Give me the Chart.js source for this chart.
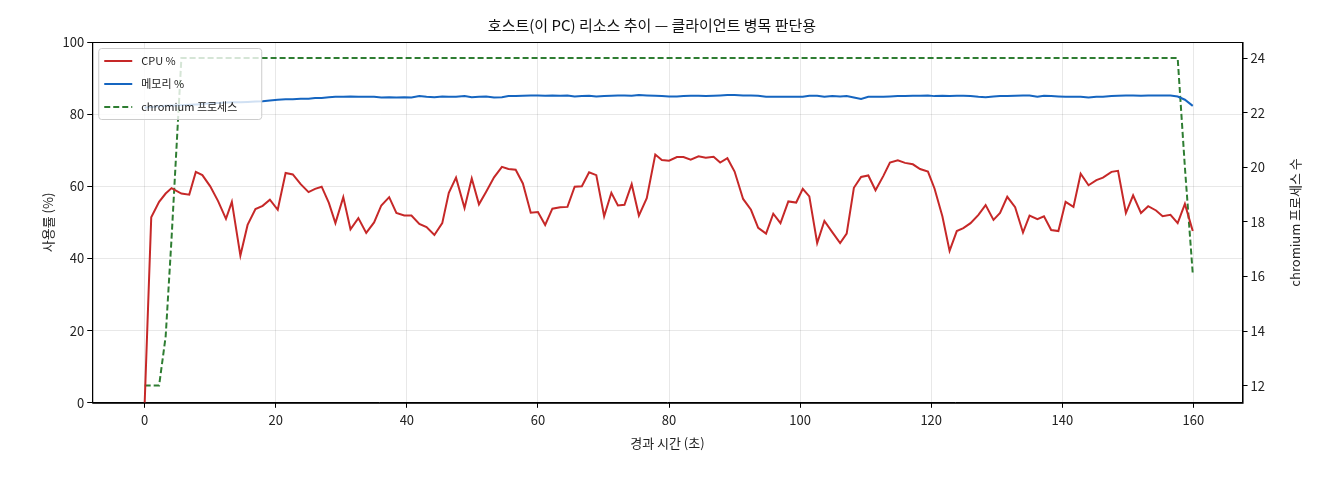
<!DOCTYPE html>
<html>
<head>
<meta charset="utf-8">
<script src="https://cdn.jsdelivr.net/npm/chart.js@4"></script>
<style>
  body { margin: 0; background: #fff; }
  #wrap { width: 1320px; height: 480px; }
</style>
</head>
<body>
<div id="wrap"><canvas id="myChart" width="1320" height="480"></canvas></div>
<script>
// elapsed seconds of each sample
const times = [0, 1.0, 2.2, 3.2, 4.1, 5.6, 6.8, 7.8, 8.8, 10, 11.2, 12.4, 13.3, 14.6, 15.7, 16.9, 18.0, 19.1, 20.3, 21.5,
  22.6, 23.8, 25, 26, 27, 28.1, 29.1, 30.3, 31.4, 32.6, 33.8, 35, 36.1, 37.3, 38.4, 39.6, 40.7, 41.9, 43, 44.2,
  45.4, 46.4, 47.5, 48.8, 49.9, 51, 52.1, 53.3, 54.5, 55.5, 56.6, 57.7, 58.9, 60, 61.1, 62.2, 63.4, 64.5, 65.6, 66.7,
  67.8, 68.9, 70.1, 71.2, 72.2, 73.2, 74.3, 75.4, 76.6, 77.9, 78.9, 80, 81.2, 82.2, 83.3, 84.5, 85.6, 86.8, 87.8, 88.9,
  90, 91.3, 92.5, 93.6, 94.8, 95.9, 97, 98.2, 99.4, 100.4, 101.4, 102.6, 103.7, 104.9, 106.1, 107.1, 108.2, 109.3, 110.4, 111.5,
  112.7, 113.7, 114.9, 116, 117.2, 118.3, 119.5, 120.5, 121.7, 122.8, 123.9, 124.9, 126, 127.2, 128.3, 129.5, 130.5, 131.6, 132.8, 134,
  135, 136.2, 137.2, 138.3, 139.4, 140.5, 141.7, 142.8, 144, 145.2, 146.2, 147.5, 148.5, 149.7, 150.8, 152, 153.1, 154.3, 155.3, 156.5,
  157.6, 158.7, 159.9];

const cpu = [0, 51.4, 55.7, 58, 59.5, 58, 57.7, 64, 63.1, 60, 55.9, 51, 55.7, 40.8, 49.3, 53.7, 54.6, 56.3, 53.5, 63.7,
  63.3, 60.6, 58.4, 59.3, 59.9, 55.4, 49.8, 57, 48.1, 51.2, 47.1, 50, 54.7, 57, 52.6, 51.9, 51.9, 49.6, 48.7, 46.5,
  49.8, 58.2, 62.4, 54, 62.2, 55, 58.5, 62.5, 65.4, 64.8, 64.6, 60.8, 52.7, 52.9, 49.3, 53.8, 54.2, 54.3, 59.9, 60,
  63.9, 63.1, 51.7, 58.2, 54.7, 54.9, 60.6, 51.9, 56.7, 68.8, 67.3, 67.1, 68.1, 68.1, 67.4, 68.3, 67.9, 68.2, 66.6, 67.8,
  64.1, 56.5, 53.5, 48.5, 46.9, 52.4, 49.8, 55.8, 55.5, 59.3, 57.2, 44.3, 50.4, 47.3, 44.3, 46.9, 59.6, 62.6, 63, 58.9,
  62.9, 66.6, 67.2, 66.5, 66.1, 64.8, 64.1, 59.4, 51.7, 42.1, 47.6, 48.4, 49.8, 52.1, 54.8, 50.7, 52.6, 57.1, 54.2, 47.2,
  51.9, 50.9, 51.7, 47.9, 47.6, 55.7, 54.3, 63.5, 60.3, 61.7, 62.4, 64, 64.3, 52.6, 57.5, 52.6, 54.5, 53.3, 51.7, 52.1,
  49.8, 55.1, 47.6];

const memory = [81.8, 82.0, 82.2, 82.3, 82.4, 82.5, 82.6, 82.7, 82.8, 83.0, 83.1, 83.2, 83.3, 83.3, 83.4, 83.5, 83.6, 83.8, 84.0, 84.1,
  84.1, 84.3, 84.3, 84.5, 84.5, 84.7, 84.8, 84.8, 84.9, 84.8, 84.8, 84.8, 84.6, 84.7, 84.6, 84.7, 84.6, 85.0, 84.8, 84.7,
  84.9, 84.8, 84.8, 85.0, 84.7, 84.8, 84.9, 84.6, 84.7, 85.0, 85.0, 85.1, 85.2, 85.2, 85.1, 85.2, 85.1, 85.2, 84.9, 85.0,
  85.1, 84.9, 85.0, 85.1, 85.2, 85.2, 85.1, 85.3, 85.2, 85.1, 85.0, 84.9, 84.9, 85.0, 85.1, 85.1, 85.0, 85.1, 85.2, 85.3,
  85.3, 85.2, 85.2, 85.1, 84.8, 84.8, 84.8, 84.8, 84.8, 84.8, 85.1, 85.1, 84.8, 85.0, 84.9, 85.0, 84.6, 84.2, 84.8, 84.8,
  84.8, 84.9, 85.0, 85.0, 85.1, 85.1, 85.2, 85.0, 85.1, 85.0, 85.1, 85.1, 85.0, 84.8, 84.7, 84.9, 85.0, 85.0, 85.1, 85.2,
  85.2, 84.8, 85.1, 85.0, 84.9, 84.8, 84.8, 84.8, 84.6, 84.8, 84.8, 85.0, 85.1, 85.2, 85.2, 85.1, 85.2, 85.2, 85.2, 85.2,
  84.9, 84.0, 82.3];

const procs = [12, 12, 12, 13.8, 17.4, 24, 24, 24, 24, 24, 24, 24, 24, 24, 24, 24, 24, 24, 24, 24,
  24, 24, 24, 24, 24, 24, 24, 24, 24, 24, 24, 24, 24, 24, 24, 24, 24, 24, 24, 24,
  24, 24, 24, 24, 24, 24, 24, 24, 24, 24, 24, 24, 24, 24, 24, 24, 24, 24, 24, 24,
  24, 24, 24, 24, 24, 24, 24, 24, 24, 24, 24, 24, 24, 24, 24, 24, 24, 24, 24, 24,
  24, 24, 24, 24, 24, 24, 24, 24, 24, 24, 24, 24, 24, 24, 24, 24, 24, 24, 24, 24,
  24, 24, 24, 24, 24, 24, 24, 24, 24, 24, 24, 24, 24, 24, 24, 24, 24, 24, 24, 24,
  24, 24, 24, 24, 24, 24, 24, 24, 24, 24, 24, 24, 24, 24, 24, 24, 24, 24, 24, 24,
  24, 20, 16.1];

const xTicks = [0, 20, 40, 60, 80, 100, 120, 140, 160];
const leftTicks = [0, 20, 40, 60, 80, 100];
const rightTicks = [12, 14, 16, 18, 20, 22, 24];

const FONT = "'Noto Sans CJK KR', 'DejaVu Sans', sans-serif";
Chart.defaults.font.family = FONT;
Chart.defaults.color = '#222';

const toXY = vals => vals.map((v, i) => ({ x: times[i], y: v }));

// legend drawn inside the plot, top-left, with a light box
const innerLegend = {
  id: 'innerLegend',
  afterDatasetsDraw(chart) {
    const ctx = chart.ctx;
    const a = chart.chartArea;
    const x0 = a.left + 6, y0 = a.top + 6;
    const items = chart.data.datasets;
    ctx.save();
    ctx.font = '11px ' + FONT;
    ctx.fillStyle = 'rgba(255,255,255,0.8)';
    ctx.strokeStyle = '#ccc';
    ctx.lineWidth = 1;
    ctx.beginPath();
    ctx.roundRect(x0 + 0.5, y0 + 0.5, 163, 71, 3);
    ctx.fill();
    ctx.stroke();
    items.forEach((ds, i) => {
      const y = y0 + 13 + i * 23;
      ctx.strokeStyle = ds.borderColor;
      ctx.lineWidth = 2;
      ctx.setLineDash(ds.borderDash || []);
      ctx.beginPath();
      ctx.moveTo(x0 + 6, y);
      ctx.lineTo(x0 + 34, y);
      ctx.stroke();
      ctx.setLineDash([]);
      ctx.fillStyle = '#222';
      ctx.textBaseline = 'middle';
      ctx.fillText(ds.label, x0 + 43, y);
    });
    ctx.restore();
  }
};

// full frame around the plot area + right axis title reading bottom-to-top
const frame = {
  id: 'frame',
  afterDraw(chart) {
    const a = chart.chartArea, ctx = chart.ctx;
    ctx.save();
    ctx.strokeStyle = '#000';
    ctx.lineWidth = 1;
    ctx.strokeRect(a.left + 0.5, a.top + 0.5, a.right - a.left, a.bottom - a.top);
    ctx.translate(a.right + 52, (a.top + a.bottom) / 2);
    ctx.rotate(-Math.PI / 2);
    ctx.font = '13px ' + FONT;
    ctx.fillStyle = '#222';
    ctx.textAlign = 'center';
    ctx.textBaseline = 'middle';
    ctx.fillText('chromium 프로세스 수', 0, 0);
    ctx.restore();
  }
};

const ctx = document.getElementById('myChart').getContext('2d');
new Chart(ctx, {
  type: 'line',
  data: {
    datasets: [
      { label: 'CPU %', data: toXY(cpu), borderColor: '#c62828', borderWidth: 2, yAxisID: 'y', pointRadius: 0, tension: 0 },
      { label: '메모리 %', data: toXY(memory), borderColor: '#1565c0', borderWidth: 2, yAxisID: 'y', pointRadius: 0, tension: 0 },
      { label: 'chromium 프로세스', data: toXY(procs), borderColor: '#2e7d32', borderWidth: 2, borderDash: [6, 3], yAxisID: 'y1', pointRadius: 0, tension: 0 }
    ]
  },
  options: {
    responsive: false,
    animation: false,
    devicePixelRatio: 1,
    layout: { padding: { left: 36, right: 52, top: 12, bottom: 25 } },
    plugins: {
      legend: { display: false },
      tooltip: { enabled: false },
      title: { display: true, text: '호스트(이 PC) 리소스 추이 — 클라이언트 병목 판단용', font: { size: 15, weight: 'normal' }, color: '#111', padding: { top: 4, bottom: 8 } }
    },
    scales: {
      x: {
        type: 'linear', min: -8, max: 167.5,
        afterBuildTicks: s => { s.ticks = xTicks.map(v => ({ value: v })); },
        ticks: { font: { size: 13 }, color: '#222', padding: 4 },
        grid: { color: 'rgba(0,0,0,0.09)', tickColor: '#000', tickLength: 5 },
        border: { color: '#000' },
        title: { display: true, text: '경과 시간 (초)', font: { size: 13 }, color: '#222' }
      },
      y: {
        position: 'left', min: 0, max: 100,
        afterBuildTicks: s => { s.ticks = leftTicks.map(v => ({ value: v })); },
        ticks: { font: { size: 13 }, color: '#222' },
        grid: { color: 'rgba(0,0,0,0.09)', tickColor: '#000', tickLength: 5 },
        border: { color: '#000' },
        title: { display: true, text: '사용률 (%)', font: { size: 13 }, color: '#222' }
      },
      y1: {
        position: 'right', min: 11.37, max: 24.59,
        afterBuildTicks: s => { s.ticks = rightTicks.map(v => ({ value: v })); },
        ticks: { font: { size: 13 }, color: '#222' },
        grid: { drawOnChartArea: false, tickColor: '#000', tickLength: 5 },
        border: { color: '#000' }
      }
    }
  },
  plugins: [innerLegend, frame]
});
</script>
</body>
</html>
